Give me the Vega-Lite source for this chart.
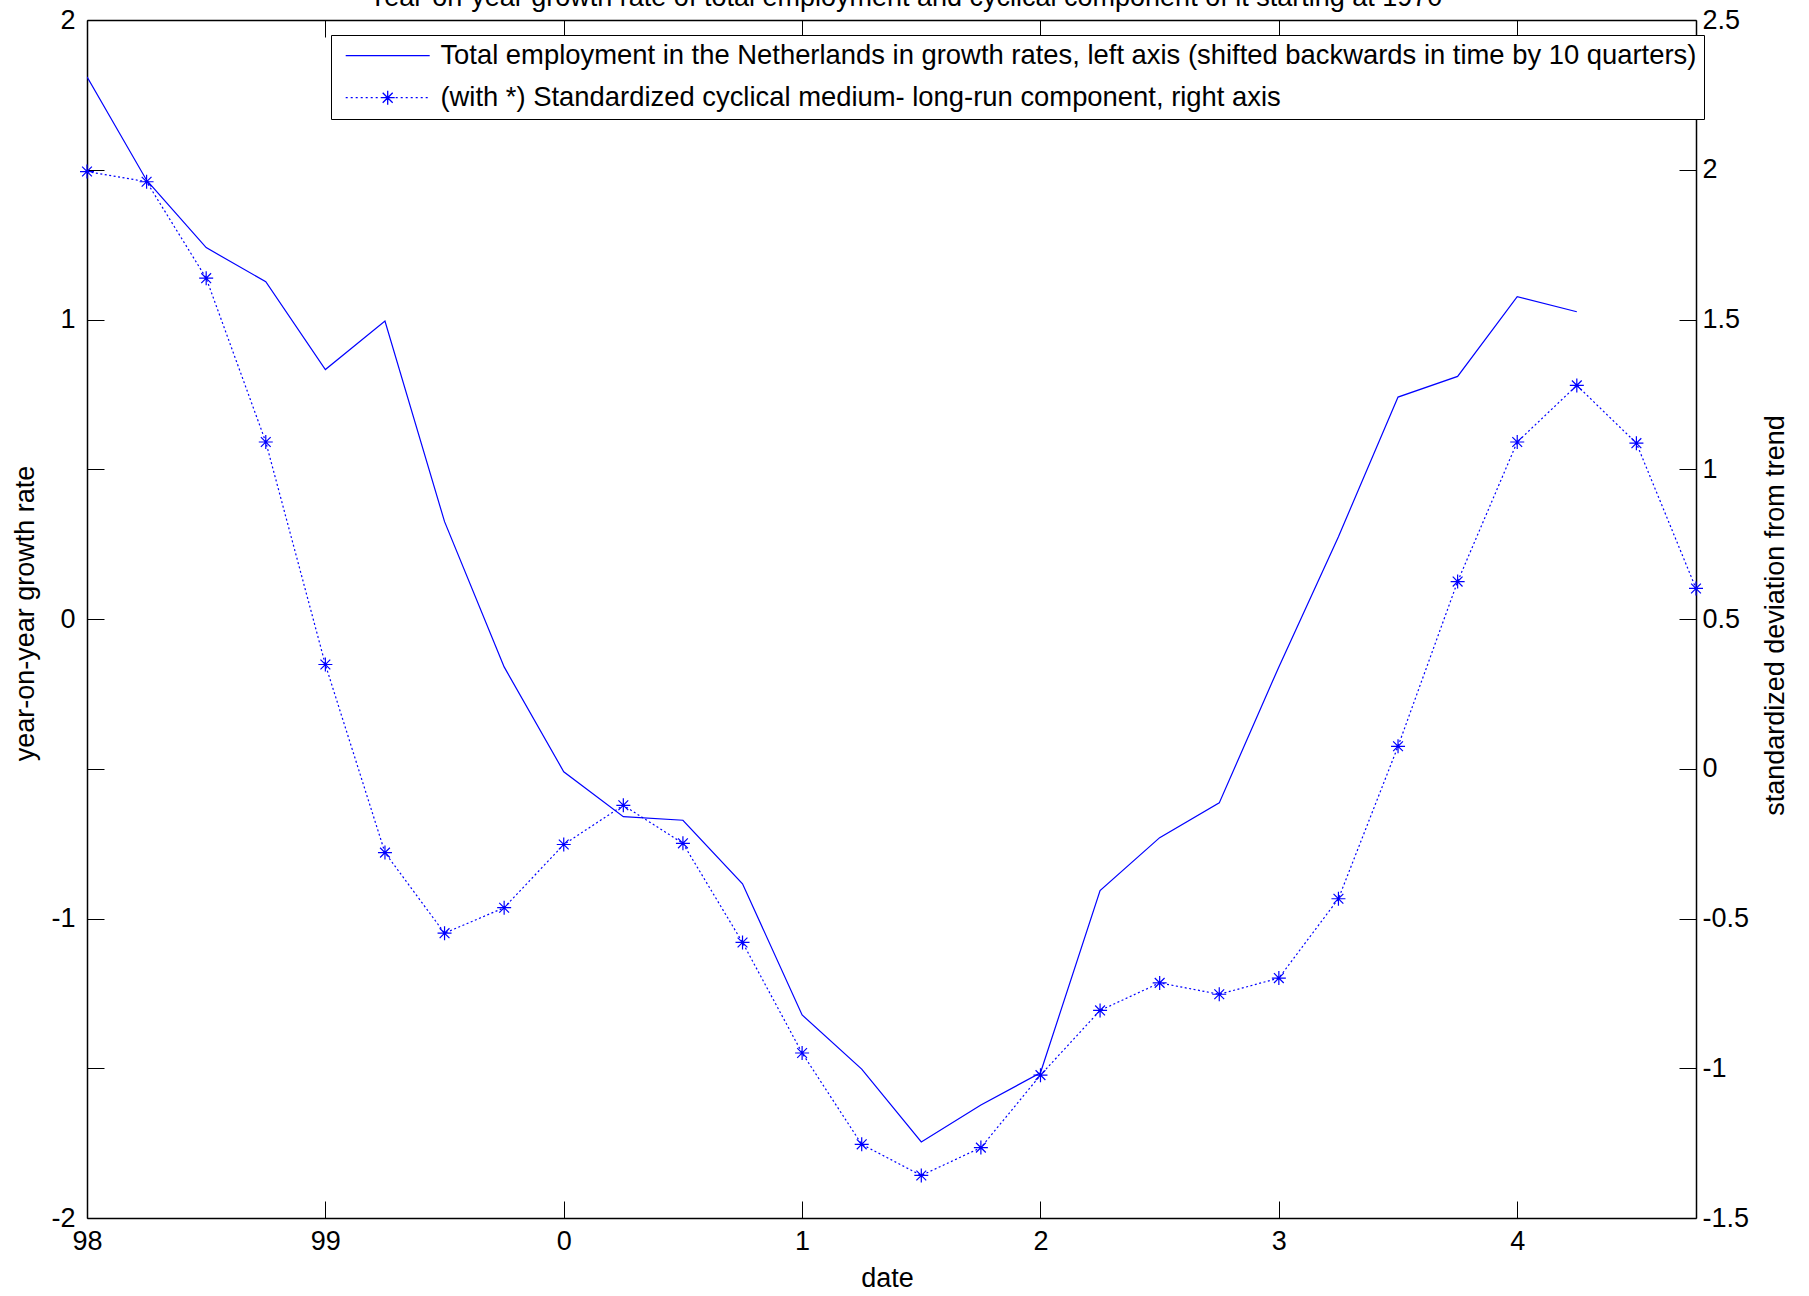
{
  "$schema": "https://vega.github.io/schema/vega-lite/v6.json",
  "width": 1609,
  "height": 1198,
  "autosize": {"type": "none"},
  "padding": {"left": 87, "top": 20, "right": 113, "bottom": 78},
  "background": "white",
  "config": {
    "view": {"stroke": null},
    "font": "Liberation Sans",
    "axis": {
      "labelFont": "Liberation Sans",
      "labelFontSize": 27,
      "labelColor": "black",
      "titleFont": "Liberation Sans",
      "titleFontSize": 27,
      "titleFontWeight": "normal",
      "titleColor": "black",
      "domainColor": "black",
      "domainWidth": 1.5,
      "tickColor": "black",
      "tickWidth": 1,
      "tickSize": -17,
      "grid": false,
      "labelOverlap": false,
      "labelBound": false
    }
  },
  "datasets": {
    "employment": [
      {"date": 1998.00, "growth": 1.81},
      {"date": 1998.25, "growth": 1.465},
      {"date": 1998.50, "growth": 1.24},
      {"date": 1998.75, "growth": 1.126},
      {"date": 1999.00, "growth": 0.833},
      {"date": 1999.25, "growth": 0.995},
      {"date": 1999.50, "growth": 0.325},
      {"date": 1999.75, "growth": -0.16},
      {"date": 2000.00, "growth": -0.51},
      {"date": 2000.25, "growth": -0.66},
      {"date": 2000.50, "growth": -0.672},
      {"date": 2000.75, "growth": -0.884},
      {"date": 2001.00, "growth": -1.322},
      {"date": 2001.25, "growth": -1.503},
      {"date": 2001.50, "growth": -1.746},
      {"date": 2001.75, "growth": -1.623},
      {"date": 2002.00, "growth": -1.515},
      {"date": 2002.25, "growth": -0.907},
      {"date": 2002.50, "growth": -0.73},
      {"date": 2002.75, "growth": -0.614},
      {"date": 2003.00, "growth": -0.16},
      {"date": 2003.25, "growth": 0.275},
      {"date": 2003.50, "growth": 0.741},
      {"date": 2003.75, "growth": 0.81},
      {"date": 2004.00, "growth": 1.076},
      {"date": 2004.25, "growth": 1.026}
    ],
    "cyclical": [
      {"date": 1998.00, "deviation": 1.994},
      {"date": 1998.25, "deviation": 1.96},
      {"date": 1998.50, "deviation": 1.638},
      {"date": 1998.75, "deviation": 1.091},
      {"date": 1999.00, "deviation": 0.348},
      {"date": 1999.25, "deviation": -0.28},
      {"date": 1999.50, "deviation": -0.549},
      {"date": 1999.75, "deviation": -0.464},
      {"date": 2000.00, "deviation": -0.253},
      {"date": 2000.25, "deviation": -0.122},
      {"date": 2000.50, "deviation": -0.249},
      {"date": 2000.75, "deviation": -0.58},
      {"date": 2001.00, "deviation": -0.949},
      {"date": 2001.25, "deviation": -1.254},
      {"date": 2001.50, "deviation": -1.358},
      {"date": 2001.75, "deviation": -1.265},
      {"date": 2002.00, "deviation": -1.023},
      {"date": 2002.25, "deviation": -0.807},
      {"date": 2002.50, "deviation": -0.715},
      {"date": 2002.75, "deviation": -0.753},
      {"date": 2003.00, "deviation": -0.699},
      {"date": 2003.25, "deviation": -0.434},
      {"date": 2003.50, "deviation": 0.075},
      {"date": 2003.75, "deviation": 0.625},
      {"date": 2004.00, "deviation": 1.091},
      {"date": 2004.25, "deviation": 1.28},
      {"date": 2004.50, "deviation": 1.087},
      {"date": 2004.75, "deviation": 0.602}
    ]
  },
  "layer": [
    {
      "data": {"name": "employment"},
      "mark": {"type": "line", "strokeWidth": 1.2, "clip": true},
      "encoding": {
        "x": {
          "field": "date",
          "type": "quantitative",
          "scale": {"domain": [1998, 2004.75], "nice": false, "zero": false},
          "axis": {
            "orient": "bottom",
            "title": "date",
            "values": [1998, 1999, 2000, 2001, 2002, 2003, 2004],
            "labelExpr": "datum.value < 2000 ? '' + (datum.value - 1900) : '' + (datum.value - 2000)",
            "labelFlush": false,
            "labelPadding": 27,
            "titleX": 800,
            "titleY": 60,
            "titleBaseline": "middle"
          }
        },
        "y": {
          "field": "growth",
          "type": "quantitative",
          "scale": {"domain": [-2, 2], "nice": false, "zero": false},
          "axis": {
            "orient": "left",
            "title": "year-on-year growth rate",
            "values": [-2, -1.5, -1, -0.5, 0, 0.5, 1, 1.5, 2],
            "labelExpr": "datum.value % 1 == 0 ? '' + datum.value : ''",
            "labelPadding": 29,
            "labelBaseline": "middle",
            "titleAngle": -90,
            "titleX": -62,
            "titleY": 593,
            "titleBaseline": "middle",
            "titleAlign": "center"
          }
        },
        "color": {
          "datum": "Total employment in the Netherlands in growth rates, left axis (shifted backwards in time by 10 quarters)",
          "type": "nominal",
          "scale": {
            "domain": [
              "Total employment in the Netherlands in growth rates, left axis (shifted backwards in time by 10 quarters)",
              "(with *) Standardized cyclical medium- long-run component, right axis"
            ],
            "range": ["#0000ff", "#0000ff"]
          },
          "legend": {
            "orient": "none",
            "legendX": 244,
            "legendY": 15,
            "title": null,
            "strokeColor": "black",
            "fillColor": "white",
            "padding": 7,
            "rowPadding": 13,
            "symbolOffset": -6,
            "labelOffset": 81,
            "labelFont": "Liberation Sans",
            "labelFontSize": 27.4,
            "labelColor": "black",
            "labelLimit": 0,
            "symbolType": "stroke",
            "symbolSize": 4,
            "symbolStrokeWidth": 1.3,
            "encode": {
              "symbols": {
                "update": {
                  "shape": {"signal": "datum.index == 0 ? 'M0,0H84' : 'M0,0h2m3,0h2m3,0h2m3,0h2m3,0h2m3,0h2m3,0h2m3,0h2m3,0h2m3,0h2m3,0h2m3,0h2m3,0h2m3,0h2m3,0h2m3,0h2m3,0h2M42,-7V7M35,0H49M37,-5L47,5M37,5L47,-5'"},
                  "strokeDash": {"value": []},
                  "size": {"value": 4},
                  "strokeWidth": {"value": 1.3},
                  "stroke": {"value": "#0000ff"},
                  "fill": {"value": "transparent"}
                }
              }
            }
          }
        }
      }
    },
    {
      "data": {"name": "cyclical"},
      "layer": [
        {
          "mark": {"type": "line", "strokeWidth": 1.2, "strokeDash": [2, 2.5], "clip": true},
          "encoding": {
            "x": {
              "field": "date",
              "type": "quantitative",
              "axis": {
                "orient": "top",
                "title": "Year-on-year growth rate of total employment and cyclical component of it starting at 1970",
                "titleX": 818,
                "titleY": -15,
                "titleBaseline": "alphabetic",
                "titleAlign": "center",
                "values": [1998, 1999, 2000, 2001, 2002, 2003, 2004],
                "labels": false
              }
            },
            "y": {
              "field": "deviation",
              "type": "quantitative",
              "scale": {"domain": [-1.5, 2.5], "nice": false, "zero": false},
              "axis": {
                "orient": "right",
                "title": "standardized deviation from trend",
                "values": [-1.5, -1, -0.5, 0, 0.5, 1, 1.5, 2, 2.5],
                "labelExpr": "'' + datum.value",
                "labelPadding": 23,
                "labelBaseline": "middle",
                "titleAngle": -90,
                "titleX": 79,
                "titleY": 595,
                "titleBaseline": "middle",
                "titleAlign": "center"
              }
            },
            "color": {
              "datum": "(with *) Standardized cyclical medium- long-run component, right axis",
              "type": "nominal"
            }
          }
        },
        {
          "mark": {
            "type": "point",
            "shape": "M0,-1V1M-1,0H1M-0.7,-0.7L0.7,0.7M-0.7,0.7L0.7,-0.7",
            "filled": false,
            "stroke": "#0000ff",
            "strokeWidth": 1.2,
            "size": 196,
            "opacity": 1
          },
          "encoding": {
            "x": {"field": "date", "type": "quantitative"},
            "y": {"field": "deviation", "type": "quantitative"}
          }
        }
      ]
    }
  ],
  "resolve": {
    "scale": {"y": "independent"},
    "axis": {"x": "independent", "y": "independent"}
  }
}
